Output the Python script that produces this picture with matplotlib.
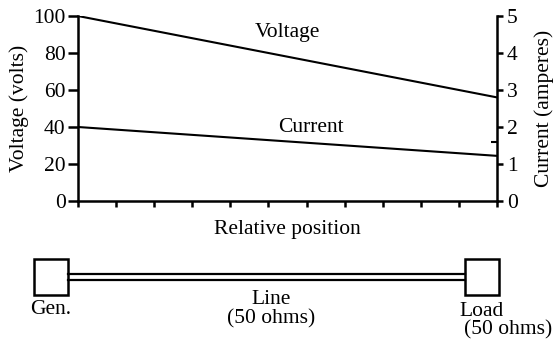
import matplotlib
matplotlib.use("Agg")
import matplotlib.pyplot as plt
from matplotlib.patches import Rectangle

plt.rcParams['font.family'] = ['Liberation Serif', 'DejaVu Serif']
plt.rcParams['font.size'] = 15.5

# data
position = [0.0, 1.0]
voltage = [100, 56]          # volts
current = [2.0, 1.22]        # amperes
x_ticks = [i / 11 for i in range(12)]
volt_ticks = [0, 20, 40, 60, 80, 100]
amp_ticks = [0, 1, 2, 3, 4, 5]
stray_tick = [1.6]           # small inward mark on the right axis

W, H = 557, 342
fig = plt.figure(figsize=(W / 100, H / 100), dpi=100)

# main chart, placed in pixels
L, R, T, B = 78, 497, 16, 201
ax = fig.add_axes([L / W, 1 - B / H, (R - L) / W, (B - T) / H])
ax2 = ax.twinx()

ax.plot(position, voltage, color='black', lw=1.5, solid_capstyle='butt')
ax2.plot(position, current, color='black', lw=1.5, solid_capstyle='butt')

ax.set_xlim(0, 1)
ax.set_ylim(0, 100)
ax2.set_ylim(0, 5)
ax.set_xticks(x_ticks)
ax.set_xticklabels([])
ax.set_yticks(volt_ticks)
ax2.set_yticks(amp_ticks)
ax2.set_yticks(stray_tick, minor=True)

for a in (ax, ax2):
    a.spines['top'].set_visible(False)
    for s in a.spines.values():
        s.set_linewidth(1.8)
    a.patch.set_visible(False)
ax.spines['right'].set_visible(False)
ax2.spines['left'].set_visible(False)
ax2.spines['bottom'].set_visible(False)

ax.tick_params(axis='x', direction='out', length=4.5, width=1.8)
ax.tick_params(axis='y', direction='out', length=7, width=1.8, pad=2)
ax2.tick_params(axis='y', direction='out', length=4, width=1.8, pad=3)
ax2.tick_params(axis='y', which='minor', direction='in', length=4, width=1.5)

ax.set_ylabel('Voltage (volts)', labelpad=3)
ax2.set_ylabel('Current (amperes)', labelpad=12)
ax.set_xlabel('Relative position', labelpad=6)

ax.text(0.5, 0.91, 'Voltage', transform=ax.transAxes, ha='center', va='center')
ax.text(0.555, 0.4, 'Current', transform=ax.transAxes, ha='center', va='center')

# line diagram underneath, in pixel coordinates
dg = fig.add_axes([0, 0, 1, 1])
dg.set_xlim(0, W)
dg.set_ylim(H, 0)
dg.axis('off')
dg.patch.set_visible(False)

dg.add_patch(Rectangle((34, 259), 34, 36, fill=False, lw=1.8, ec='black'))
dg.add_patch(Rectangle((465, 259), 34, 36, fill=False, lw=1.8, ec='black'))
dg.plot([68, 465], [273.5, 273.5], color='black', lw=1.6)
dg.plot([68, 465], [279.5, 279.5], color='black', lw=1.6)

dg.text(51, 310, 'Gen.', ha='center', va='center')
dg.text(271, 300, 'Line', ha='center', va='center')
dg.text(271, 319, '(50 ohms)', ha='center', va='center')
dg.text(482, 311, 'Load', ha='center', va='center')
dg.text(508, 330, '(50 ohms)', ha='center', va='center')

fig.savefig('out.png', dpi=100)
